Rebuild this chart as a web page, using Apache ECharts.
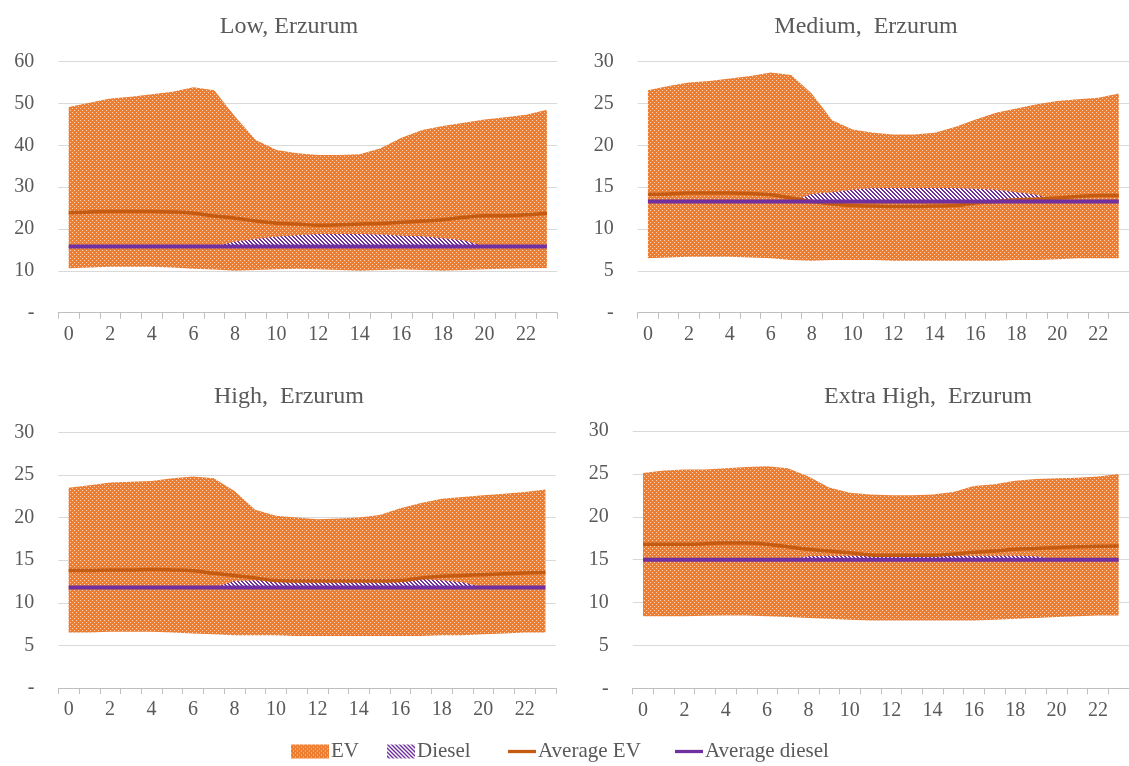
<!DOCTYPE html>
<html>
<head>
<meta charset="utf-8">
<script src="https://cdn.jsdelivr.net/npm/echarts@6/dist/echarts.min.js"></script>
<style>html,body{margin:0;padding:0;background:#fff}#c{width:1129px;height:766px}</style>
</head>
<body>
<div id="c"></div>
<script>
// ---------------- DATA ----------------
const hours = ['0','1','2','3','4','5','6','7','8','9','10','11','12','13','14','15','16','17','18','19','20','21','22','23'];
const panelTitles = ['Low, Erzurum', 'Medium,  Erzurum', 'High,  Erzurum', 'Extra High,  Erzurum'];
const legendNames = ['EV', 'Diesel', 'Average EV', 'Average diesel'];
const yMaxes = [60, 30, 30, 30];
const yIntervals = [10, 5, 5, 5];

// Low
const lowEvMin = [10.6,10.8,11.0,11.0,11.0,10.8,10.5,10.3,10.0,10.2,10.4,10.5,10.4,10.2,10.0,10.2,10.4,10.2,10.0,10.2,10.4,10.5,10.6,10.7];
const lowEvMax = [49.2,50.2,51.2,51.6,52.2,52.8,53.9,53.2,46.9,41.3,38.9,38.1,37.7,37.7,37.9,39.3,41.8,43.7,44.6,45.4,46.2,46.7,47.3,48.5];
const lowDieselMin = [15.8,15.8,15.8,15.8,15.8,15.8,15.8,15.8,15.8,15.8,15.8,15.8,15.8,15.8,15.8,15.8,15.8,15.8,15.8,15.8,15.8,15.8,15.8,15.8];
const lowDieselMax = [15.8,15.8,15.8,15.8,15.8,15.8,15.8,15.8,17.0,17.6,18.2,18.5,18.8,18.8,18.8,18.7,18.4,18.3,17.8,17.3,15.8,15.8,15.8,15.8];
const lowAvgEv = [23.9,24.1,24.2,24.2,24.2,24.1,23.8,23.1,22.6,21.9,21.4,21.2,20.9,21.0,21.2,21.3,21.6,21.9,22.2,22.8,23.2,23.2,23.4,23.8];
const lowAvgDiesel = [15.8,15.8,15.8,15.8,15.8,15.8,15.8,15.8,15.8,15.8,15.8,15.8,15.8,15.8,15.8,15.8,15.8,15.8,15.8,15.8,15.8,15.8,15.8,15.8];

// Medium
const medEvMin = [6.5,6.6,6.7,6.7,6.7,6.6,6.5,6.3,6.2,6.3,6.3,6.3,6.2,6.2,6.2,6.2,6.2,6.2,6.3,6.3,6.4,6.5,6.5,6.5];
const medEvMax = [26.6,27.1,27.5,27.7,28.0,28.3,28.7,28.4,26.2,23.0,21.9,21.5,21.3,21.3,21.5,22.2,23.1,23.9,24.4,24.9,25.3,25.5,25.7,26.2];
const medDieselMin = [13.3,13.3,13.3,13.3,13.3,13.3,13.3,13.3,13.3,13.3,13.3,13.3,13.3,13.3,13.3,13.3,13.3,13.3,13.3,13.3,13.3,13.3,13.3,13.3];
const medDieselMax = [13.3,13.3,13.3,13.3,13.3,13.3,13.3,13.3,14.2,14.4,14.7,14.9,14.9,14.9,14.9,14.9,14.8,14.7,14.4,14.1,13.3,13.3,13.3,13.3];
const medAvgEv = [14.15,14.2,14.3,14.3,14.3,14.25,14.1,13.7,13.3,13.0,12.8,12.75,12.7,12.7,12.75,12.8,13.1,13.3,13.5,13.6,13.7,13.9,14.0,14.0];
const medAvgDiesel = [13.3,13.3,13.3,13.3,13.3,13.3,13.3,13.3,13.3,13.3,13.3,13.3,13.3,13.3,13.3,13.3,13.3,13.3,13.3,13.3,13.3,13.3,13.3,13.3];

// High
const highEvMin = [6.5,6.5,6.6,6.6,6.6,6.5,6.4,6.3,6.2,6.2,6.2,6.1,6.1,6.1,6.1,6.1,6.1,6.1,6.2,6.2,6.3,6.4,6.5,6.5];
const highEvMax = [23.5,23.8,24.1,24.2,24.3,24.6,24.8,24.6,23.1,20.9,20.2,20.0,19.8,19.9,20.0,20.3,21.1,21.7,22.2,22.4,22.6,22.8,23.0,23.3];
const highDieselMin = [11.8,11.8,11.8,11.8,11.8,11.8,11.8,11.8,11.8,11.8,11.8,11.8,11.8,11.8,11.8,11.8,11.8,11.8,11.8,11.8,11.8,11.8,11.8,11.8];
const highDieselMax = [11.8,11.8,11.8,11.8,11.8,11.8,11.8,11.8,12.55,12.65,12.8,12.8,12.8,12.8,12.8,12.8,12.8,12.8,12.65,12.4,11.8,11.8,11.8,11.8];
const highAvgEv = [13.8,13.8,13.85,13.85,13.9,13.85,13.75,13.45,13.2,12.9,12.6,12.55,12.55,12.55,12.55,12.55,12.6,12.9,13.1,13.2,13.3,13.4,13.5,13.55];
const highAvgDiesel = [11.8,11.8,11.8,11.8,11.8,11.8,11.8,11.8,11.8,11.8,11.8,11.8,11.8,11.8,11.8,11.8,11.8,11.8,11.8,11.8,11.8,11.8,11.8,11.8];

// Extra High
const xhEvMin = [8.4,8.4,8.4,8.45,8.5,8.5,8.4,8.3,8.2,8.1,8.0,7.9,7.9,7.9,7.9,7.9,7.9,8.0,8.1,8.2,8.3,8.4,8.5,8.5];
const xhEvMax = [25.1,25.4,25.5,25.5,25.65,25.8,25.9,25.65,24.7,23.4,22.8,22.6,22.5,22.5,22.6,22.9,23.6,23.8,24.2,24.4,24.5,24.55,24.7,25.0];
const xhDieselMin = [15.0,15.0,15.0,15.0,15.0,15.0,15.0,15.0,15.0,15.0,15.0,15.0,15.0,15.0,15.0,15.0,15.0,15.0,15.0,15.0,15.0,15.0,15.0,15.0];
const xhDieselMax = [15.0,15.0,15.0,15.0,15.0,15.0,15.0,15.0,15.4,15.45,15.45,15.45,15.45,15.45,15.45,15.45,15.45,15.45,15.45,15.4,15.0,15.0,15.0,15.0];
const xhAvgEv = [16.8,16.8,16.8,16.85,16.95,16.95,16.8,16.5,16.2,16.0,15.8,15.55,15.5,15.5,15.5,15.65,15.85,16.0,16.2,16.3,16.4,16.5,16.55,16.6];
const xhAvgDiesel = [15.0,15.0,15.0,15.0,15.0,15.0,15.0,15.0,15.0,15.0,15.0,15.0,15.0,15.0,15.0,15.0,15.0,15.0,15.0,15.0,15.0,15.0,15.0,15.0];

const panels = [
  {evMin: lowEvMin, evMax: lowEvMax, dMin: lowDieselMin, dMax: lowDieselMax, avgEv: lowAvgEv, avgD: lowAvgDiesel},
  {evMin: medEvMin, evMax: medEvMax, dMin: medDieselMin, dMax: medDieselMax, avgEv: medAvgEv, avgD: medAvgDiesel},
  {evMin: highEvMin, evMax: highEvMax, dMin: highDieselMin, dMax: highDieselMax, avgEv: highAvgEv, avgD: highAvgDiesel},
  {evMin: xhEvMin, evMax: xhEvMax, dMin: xhDieselMin, dMax: xhDieselMax, avgEv: xhAvgEv, avgD: xhAvgDiesel}
];

// ---------------- STYLE ----------------
const FONT = 'Liberation Serif';
const TXT = '#595959';
const EV_COLOR = '#ED7D31';
const AVG_EV_COLOR = '#C55A11';
const DIESEL_COLOR = '#7030A0';

function makeEvPattern() {
  const c = document.createElement('canvas');
  c.width = 4; c.height = 4;
  const g = c.getContext('2d');
  g.fillStyle = EV_COLOR; g.fillRect(0, 0, 4, 4);
  g.fillStyle = '#FAD2B4';
  g.fillRect(0, 0, 1, 1); g.fillRect(2, 2, 1, 1);
  return c;
}
function makeDieselPattern() {
  const c = document.createElement('canvas');
  c.width = 8; c.height = 8;
  const g = c.getContext('2d');
  g.fillStyle = '#FFFFFF'; g.fillRect(0, 0, 8, 8);
  g.fillStyle = DIESEL_COLOR;
  for (let y = 0; y < 8; y++) for (let x = 0; x < 8; x++) {
    if ((((x - y) % 4) + 4) % 4 < 2) g.fillRect(x, y, 1, 1);
  }
  return c;
}
const evPat = {image: makeEvPattern(), repeat: 'repeat'};
const dPat = {image: makeDieselPattern(), repeat: 'repeat'};

const gridBoxes = [
  {left: 58.3, top: 61.7, width: 499, height: 251},
  {left: 637.7, top: 61.7, width: 494, height: 251},
  {left: 58.3, top: 432.3, width: 497.5, height: 255.7},
  {left: 632.7, top: 431, width: 499, height: 257.3}
];
const titlePos = [
  {cx: 284, top: 10},
  {cx: 861, top: 10},
  {cx: 284, top: 380},
  {cx: 923, top: 380}
];
const LINE_ICON = 'path://M0,0 L30,0 L30,3.5 L0,3.5 Z';
const legendItems = [
  {left: 291, w: 38, data: {name: legendNames[0], icon: 'rect', itemStyle: {color: evPat}}},
  {left: 387, w: 28, data: {name: legendNames[1], icon: 'rect', itemStyle: {color: dPat}}},
  {left: 508, w: 28, data: {name: legendNames[2], icon: LINE_ICON, itemStyle: {color: AVG_EV_COLOR}}},
  {left: 675, w: 28, data: {name: legendNames[3], icon: LINE_ICON, itemStyle: {color: DIESEL_COLOR}}}
];

const option = {
  animation: false,
  backgroundColor: '#ffffff',
  title: panelTitles.map((t, i) => ({
    text: t, left: titlePos[i].cx, top: titlePos[i].top, textAlign: 'center',
    textStyle: {fontFamily: FONT, fontSize: 24, fontWeight: 'normal', color: TXT}
  })),
  legend: legendItems.map(l => ({
    left: l.left, top: 741, itemWidth: l.w, itemHeight: 14, padding: 0,
    textStyle: {fontFamily: FONT, fontSize: 21, color: TXT, padding: [0, 0, 0, -3]},
    data: [l.data]
  })),
  grid: gridBoxes.map(b => Object.assign({containLabel: false}, b)),
  xAxis: gridBoxes.map((b, i) => ({
    type: 'category', gridIndex: i, data: hours, boundaryGap: true,
    axisLine: {lineStyle: {color: '#BFBFBF', width: 1}},
    axisTick: {show: true, interval: 0, length: 6, lineStyle: {color: '#BFBFBF'}},
    axisLabel: {interval: 1, color: TXT, fontFamily: FONT, fontSize: 20, margin: 12},
    splitLine: {show: false}
  })),
  yAxis: gridBoxes.map((b, i) => ({
    type: 'value', gridIndex: i, min: 0, max: yMaxes[i], interval: yIntervals[i],
    axisLine: {show: false}, axisTick: {show: false},
    axisLabel: {color: TXT, fontFamily: FONT, fontSize: 20, margin: 24,
      formatter: v => (v === 0 ? '-' : String(v))},
    splitLine: {lineStyle: {color: '#D9D9D9', width: 1}}
  })),
  series: []
};

panels.forEach((p, i) => {
  const evDiff = p.evMax.map((v, k) => +(v - p.evMin[k]).toFixed(3));
  const dDiff = p.dMax.map((v, k) => +(v - p.dMin[k]).toFixed(3));
  option.series.push(
    {name: 'EV base ' + i, type: 'line', xAxisIndex: i, yAxisIndex: i, stack: 'ev' + i,
     data: p.evMin, symbol: 'none', lineStyle: {width: 0, opacity: 0}, silent: true, z: 2},
    {name: legendNames[0], type: 'line', xAxisIndex: i, yAxisIndex: i, stack: 'ev' + i,
     data: evDiff, symbol: 'none', lineStyle: {width: 0, opacity: 0}, itemStyle: {color: EV_COLOR},
     areaStyle: {color: evPat, opacity: 1}, z: 2},
    {name: 'Diesel base ' + i, type: 'line', xAxisIndex: i, yAxisIndex: i, stack: 'd' + i,
     data: p.dMin, symbol: 'none', lineStyle: {width: 0, opacity: 0}, silent: true, z: 3},
    {name: legendNames[1], type: 'line', xAxisIndex: i, yAxisIndex: i, stack: 'd' + i,
     data: dDiff, symbol: 'none', lineStyle: {width: 0, opacity: 0}, itemStyle: {color: DIESEL_COLOR},
     areaStyle: {color: dPat, opacity: 1}, z: 3},
    {name: legendNames[2], type: 'line', xAxisIndex: i, yAxisIndex: i, data: p.avgEv,
     symbol: 'none', smooth: 0.4, lineStyle: {color: AVG_EV_COLOR, width: 3.5}, itemStyle: {color: AVG_EV_COLOR}, z: 4},
    {name: legendNames[3], type: 'line', xAxisIndex: i, yAxisIndex: i, data: p.avgD,
     symbol: 'none', smooth: 0.4, lineStyle: {color: DIESEL_COLOR, width: 4}, itemStyle: {color: DIESEL_COLOR}, z: 5}
  );
});

const chart = echarts.init(document.getElementById('c'), null, {renderer: 'canvas'});
chart.setOption(option);
</script>
</body>
</html>
